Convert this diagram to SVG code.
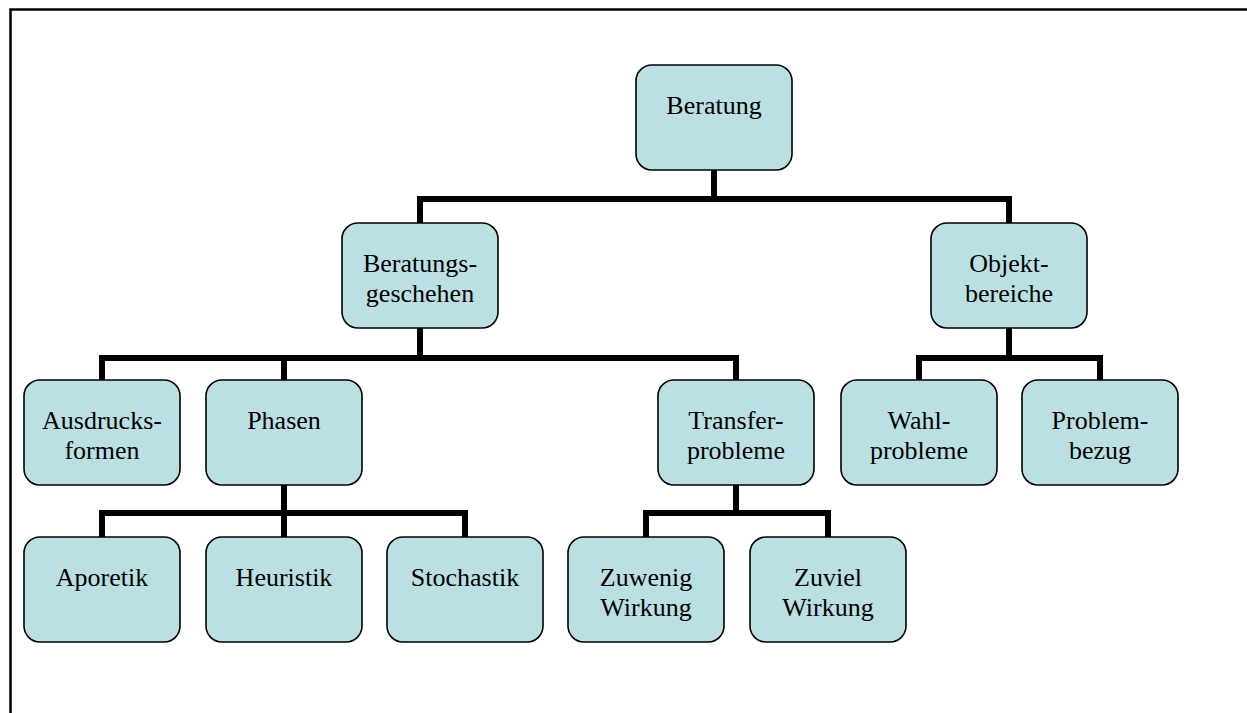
<svg xmlns="http://www.w3.org/2000/svg" width="1247" height="713" viewBox="0 0 1247 713">
  <style>
    .node rect { fill: #BBE0E3; stroke: #000; stroke-width: 1.6; }
    .node text { font-size: 26px; fill: #000; text-anchor: middle; }
    #connectors path { fill: none; stroke: #000; stroke-width: 6; stroke-linejoin: miter; stroke-linecap: butt; }
    .frame { fill: none; stroke: #000; stroke-width: 2.5; }
  </style>
  <rect x="0" y="0" width="1247" height="713" fill="#fff"/>
  <!-- page frame -->
  <path class="frame" d="M10.5,713 V9.5 H1247"/>

  <g id="connectors">
    <path d="M714,170 V199"/>
    <path d="M420,223 V199 H1009 V223"/>
    <path d="M420,328 V358"/>
    <path d="M102,380 V358 H736 V380"/>
    <path d="M284,358 V380"/>
    <path d="M1009,328 V358"/>
    <path d="M919,380 V358 H1100 V380"/>
    <path d="M284,485 V513"/>
    <path d="M102,537 V513 H465 V537"/>
    <path d="M284,513 V537"/>
    <path d="M736,485 V513"/>
    <path d="M646,537 V513 H828 V537"/>
  </g>

  <g font-family="'Liberation Serif', 'Times New Roman', Times, serif">
  <g id="beratung" class="node">
    <rect x="636" y="65" width="156" height="105" rx="16"/>
    <text x="714" y="114">Beratung</text>
  </g>
  <g id="beratungsgeschehen" class="node">
    <rect x="342" y="223" width="156" height="105" rx="16"/>
    <text x="420" y="272">Beratungs-</text>
    <text x="420" y="302">geschehen</text>
  </g>
  <g id="objektbereiche" class="node">
    <rect x="931" y="223" width="156" height="105" rx="16"/>
    <text x="1009" y="272">Objekt-</text>
    <text x="1009" y="302">bereiche</text>
  </g>
  <g id="ausdrucksformen" class="node">
    <rect x="24" y="380" width="156" height="105" rx="16"/>
    <text x="102" y="429">Ausdrucks-</text>
    <text x="102" y="459">formen</text>
  </g>
  <g id="phasen" class="node">
    <rect x="206" y="380" width="156" height="105" rx="16"/>
    <text x="284" y="429">Phasen</text>
  </g>
  <g id="transferprobleme" class="node">
    <rect x="658" y="380" width="156" height="105" rx="16"/>
    <text x="736" y="429">Transfer-</text>
    <text x="736" y="459">probleme</text>
  </g>
  <g id="wahlprobleme" class="node">
    <rect x="841" y="380" width="156" height="105" rx="16"/>
    <text x="919" y="429">Wahl-</text>
    <text x="919" y="459">probleme</text>
  </g>
  <g id="problembezug" class="node">
    <rect x="1022" y="380" width="156" height="105" rx="16"/>
    <text x="1100" y="429">Problem-</text>
    <text x="1100" y="459">bezug</text>
  </g>
  <g id="aporetik" class="node">
    <rect x="24" y="537" width="156" height="105" rx="16"/>
    <text x="102" y="586">Aporetik</text>
  </g>
  <g id="heuristik" class="node">
    <rect x="206" y="537" width="156" height="105" rx="16"/>
    <text x="284" y="586">Heuristik</text>
  </g>
  <g id="stochastik" class="node">
    <rect x="387" y="537" width="156" height="105" rx="16"/>
    <text x="465" y="586">Stochastik</text>
  </g>
  <g id="zuwenig-wirkung" class="node">
    <rect x="568" y="537" width="156" height="105" rx="16"/>
    <text x="646" y="586">Zuwenig</text>
    <text x="646" y="616">Wirkung</text>
  </g>
  <g id="zuviel-wirkung" class="node">
    <rect x="750" y="537" width="156" height="105" rx="16"/>
    <text x="828" y="586">Zuviel</text>
    <text x="828" y="616">Wirkung</text>
  </g>
  </g>
</svg>
